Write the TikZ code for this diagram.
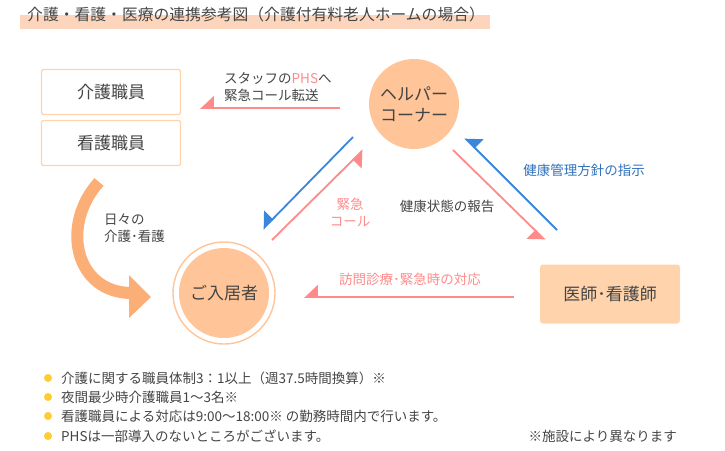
\documentclass[tikz,border=0pt]{standalone}
\usepackage{fontspec}
\setmainfont{Noto Sans CJK JP}
\usetikzlibrary{arrows.meta}
\definecolor{txt}{HTML}{444444}
\definecolor{peach}{HTML}{FFC497}
\definecolor{peachl}{HTML}{FFD4AD}
\definecolor{band}{HTML}{FDD5BD}
\definecolor{pinkc}{HTML}{FF8A8A}
\definecolor{bluec}{HTML}{3A86DC}
\definecolor{orangec}{HTML}{FBAE76}
\definecolor{yel}{HTML}{FFCC33}
\tikzset{
 every node/.style={text=txt,font=\fontsize{13.5}{17}\selectfont},
 staff/.style={draw=peachl,line width=1.3pt,rounded corners=2pt,minimum width=139pt,minimum height=45pt,font=\fontsize{17}{20}\selectfont},
 pk/.style={draw=pinkc,line width=1.8pt,-{Triangle[harpoon,swap,length=13pt,width=24pt]}},
 bl/.style={draw=bluec,line width=1.8pt,-{Triangle[harpoon,swap,length=13pt,width=24pt]}},
 bul/.style={anchor=west,font=\fontsize{13.5}{15}\selectfont},
}
\begin{document}
\begin{tikzpicture}[x=1pt,y=-1pt]
\useasboundingbox (0,0) rectangle (725,450);
\fill[band] (20,15) rectangle (490,29);
\node[anchor=west,inner sep=0pt,font=\fontsize{15.8}{18}\selectfont] (title) at (27,14) {介護・看護・医療の連携参考図（介護付有料老人ホームの場合）};
\node[staff] (kaigo) at (111,92) {介護職員};
\node[staff] (kango) at (111,143) {看護職員};
\node[circle,fill=peach,minimum size=90pt,inner sep=0pt,align=center,font=\fontsize{17}{21}\selectfont] (helper) at (414,104) {ヘルパー\\コーナー};
\node[circle,fill=peach,minimum size=90pt,inner sep=0pt,font=\fontsize{17}{20}\selectfont] (res) at (224,293) {ご入居者};
\draw[peach,line width=1.4pt] (res.center) circle (51);
\node[fill=peachl,rounded corners=3pt,minimum width=140pt,minimum height=59pt,font=\fontsize{17}{20}\selectfont] (doc) at (610,294) {医師･看護師};
% arrows
\coordinate (p1) at (340,108); \coordinate (p2) at (200,108);
\draw[pk] (p1) -- (p2);
\node[anchor=west,align=left,inner sep=0pt] (phs) at (224,87) {スタッフの\textcolor{pinkc}{PHS}へ\\緊急コール転送};
\coordinate (b1) at (353,137); \coordinate (b2) at (263,229);
\draw[bl] (b1) -- (b2);
\coordinate (c1) at (272,240); \coordinate (c2) at (363,150);
\draw[pk] (c1) -- (c2);
\node[text=pinkc,align=center] (kyu) at (350,212) {緊急\\コール};
\coordinate (d1) at (453,150); \coordinate (d2) at (545,240);
\draw[pk] (d1) -- (d2);
\coordinate (e1) at (557,230); \coordinate (e2) at (465,138);
\draw[bl] (e1) -- (e2);
\node (hokoku) at (447,206) {健康状態の報告};
\node[text=bluec!85!black] (shiji) at (584,170) {健康管理方針の指示};
\coordinate (f1) at (514,297); \coordinate (f2) at (304,297);
\draw[pk] (f1) -- (f2);
\node[text=pinkc] (homon) at (410,279) {訪問診療･緊急時の対応};
% orange curved arrow
\coordinate (o1) at (99,182);
\draw[orangec,line width=12pt] (o1) .. controls (60,225) and (75,293) .. (132,293);
\fill[orangec] (129,275) -- (151,297) -- (129,318) -- cycle;
\node[anchor=west,align=left,inner sep=0pt] (hibi) at (104,228) {日々の\\介護･看護};
% bullets
\foreach \y/\t in {378/{介護に関する職員体制3：1以上（週37.5時間換算）※},397/{夜間最少時介護職員1～3名※},416/{看護職員による対応は9:00～18:00※ の勤務時間内で行います。},436/{PHSは一部導入のないところがございます。}}{
 \fill[yel] (48,\y) circle (4);
 \node[bul,inner sep=0pt] at (61,\y) {\t};
}
\node[anchor=east,inner sep=0pt,font=\fontsize{13.5}{15}\selectfont] (note) at (677,436) {※施設により異なります};
\end{tikzpicture}
\end{document}
